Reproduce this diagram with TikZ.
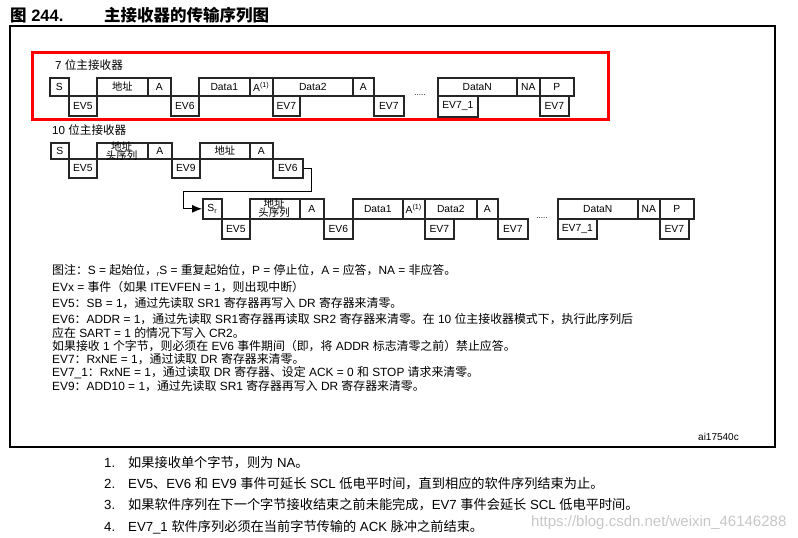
\documentclass[tikz,border=0pt]{standalone}
\usepackage{fontspec}
\setmainfont{Liberation Sans}
\newfontfamily\cjkfont{Noto Sans CJK SC}
\usetikzlibrary{arrows.meta}
\XeTeXinterchartokenstate=1
\newXeTeXintercharclass\CJKcls
\newcount\cjkc
\def\setcjkrange#1#2{\cjkc=#1\relax\loop\XeTeXcharclass\cjkc=\CJKcls\relax\ifnum\cjkc<#2\advance\cjkc by 1\repeat}
\setcjkrange{"4E00}{"9FFF}
\setcjkrange{"3000}{"303F}
\setcjkrange{"FF00}{"FFEF}
\XeTeXinterchartoks 0 \CJKcls = {\cjkfont}
\XeTeXinterchartoks 4095 \CJKcls = {\cjkfont}
\XeTeXinterchartoks \CJKcls 0 = {\rmfamily}
\XeTeXinterchartoks \CJKcls 4095 = {\rmfamily}
\tikzset{
  bx/.style={draw=black!85, line width=1.6pt, inner sep=0pt, font=\fontsize{10.3}{10.3}\selectfont},
  conn/.style={draw=black, line width=0.9pt},
  note/.style={anchor=base west, inner sep=0pt, font=\fontsize{11.9}{11.9}\selectfont},
  foot/.style={anchor=base west, inner sep=0pt, font=\fontsize{13.2}{13.2}\selectfont},
  rowlabel/.style={anchor=base west, inner sep=0pt, font=\fontsize{11.6}{11.6}\selectfont},
  hdr/.style={inner sep=0pt, font=\fontsize{10.5}{10.5}\selectfont},
  small/.style={inner sep=0pt, font=\fontsize{8}{8}\selectfont},
  titlef/.style={anchor=base west, inner sep=0pt, font=\bfseries\fontsize{16.5}{16.5}\selectfont},
}
\newcommand\boxat[6]{\node[bx,anchor=north west,minimum width={(#4-#2)*1pt},minimum height={(#5-#3)*1pt}] (#1) at (#2,#3) {#6};}
\begin{document}
\begin{tikzpicture}[x=1pt,y=-1pt]
\useasboundingbox (0,0) rectangle (798,538);
% title
\node[titlef] (t1) at (10,21) {图 244.};
\node[titlef] (t2) at (104,21) {主接收器的传输序列图};
% frame
\draw[line width=1.5pt] (10,26) rectangle (775,447);
\draw[red, line width=3pt] (32,52) rectangle (608,119);
% row 1
\node[rowlabel] (l7) at (55,69) {7 位主接收器};
\boxat{s1}{49}{77}{68}{95}{S}
\boxat{ev5a}{68}{95}{96}{115}{EV5}
\boxat{addr1}{96}{77}{147}{95}{地址}
\boxat{a1}{147}{77}{170}{95}{A}
\boxat{ev6a}{170}{95}{198}{115}{EV6}
\boxat{d1a}{198}{77}{249}{95}{Data1}
\boxat{a1b}{249}{77}{272}{95}{A\textsuperscript{(1)}}
\boxat{d2a}{272}{77}{352}{95}{Data2}
\boxat{ev7a}{272}{95}{299}{115}{EV7}
\boxat{a1c}{352}{77}{373}{95}{A}
\boxat{ev7b}{373}{95}{403}{115}{EV7}
\node[small] (dots1) at (420,95) {.....};
\boxat{dna}{437}{77}{516}{95}{DataN}
\boxat{naa}{516}{77}{539}{95}{NA}
\boxat{pa}{539}{77}{573}{95}{P}
\boxat{ev71a}{437}{95}{477}{116}{EV7\_1}
\boxat{ev7c}{539}{95}{568}{115}{EV7}
% row 2
\node[rowlabel] (l10) at (52,134) {10 位主接收器};
\boxat{s2}{50}{142}{68}{158}{S}
\boxat{ev5b}{68}{158}{96}{177}{EV5}
\boxat{addr2}{96}{142}{147}{158}{}
\node[hdr] (addr2t) at (121.5,146.5) {地址};
\node[hdr] (addr2h) at (121.5,156) {头序列};
\boxat{a2}{147}{142}{171}{158}{A}
\boxat{ev9}{171}{158}{199}{177}{EV9}
\boxat{addr3}{199}{142}{249}{158}{地址}
\boxat{a3}{249}{142}{272}{158}{A}
\boxat{ev6b}{272}{158}{302}{177}{EV6}
% row 3
\boxat{sr}{202}{198}{221}{218}{S\textsubscript{r}}
\boxat{ev5c}{221}{218}{249}{238}{EV5}
\boxat{addr4}{249}{198}{299}{218}{}
\node[hdr] (addr4t) at (274,203.5) {地址};
\node[hdr] (addr4h) at (274,213) {头序列};
\boxat{a4}{299}{198}{323}{218}{A}
\boxat{ev6c}{323}{218}{352}{238}{EV6}
\boxat{d1c}{352}{198}{402}{218}{Data1}
\boxat{a4b}{402}{198}{424}{218}{A\textsuperscript{(1)}}
\boxat{d2c}{424}{198}{476}{218}{Data2}
\boxat{ev7d}{424}{218}{453}{238}{EV7}
\boxat{a4c}{476}{198}{497}{218}{A}
\boxat{ev7e}{497}{218}{527}{238}{EV7}
\node[small] (dots2) at (542,218) {.....};
\boxat{dnc}{557}{198}{637}{218}{DataN}
\boxat{nac}{637}{198}{659}{218}{NA}
\boxat{pc}{659}{198}{693}{218}{P}
\boxat{ev71c}{557}{218}{596}{238}{EV7\_1}
\boxat{ev7f}{659}{218}{688}{238}{EV7}
% connector
\coordinate (c1) at (311,191);
\coordinate (c2) at (183,191);
\draw[conn, -{Latex[length=10pt,width=8pt]}] (ev6b.east) -| (c1) -- (c2) |- (sr.west);
% notes
\node[note] (n1) at (52,274) {图注：S = 起始位，{\fontsize{7}{7}\selectfont\raisebox{-2pt}{r}}S = 重复起始位，P = 停止位，A = 应答，NA = 非应答。};
\node[note] (n2) at (52,291) {EVx = 事件（如果 ITEVFEN = 1，则出现中断）};
\node[note] (n3) at (52,307) {EV5：SB = 1，通过先读取 SR1 寄存器再写入 DR 寄存器来清零。};
\node[note] (n4) at (52,323) {EV6：ADDR = 1，通过先读取 SR1寄存器再读取 SR2 寄存器来清零。在 10 位主接收器模式下，执行此序列后};
\node[note] (n5) at (52,337) {应在 SART = 1 的情况下写入 CR2。};
\node[note] (n6) at (52,350) {如果接收 1 个字节，则必须在 EV6 事件期间（即，将 ADDR 标志清零之前）禁止应答。};
\node[note] (n7) at (52,363) {EV7：RxNE = 1，通过读取 DR 寄存器来清零。};
\node[note] (n8) at (52,376) {EV7\_1：RxNE = 1，通过读取 DR 寄存器、设定 ACK = 0 和 STOP 请求来清零。};
\node[note] (n9) at (52,390) {EV9：ADD10 = 1，通过先读取 SR1 寄存器再写入 DR 寄存器来清零。};
\node[anchor=base west, inner sep=0pt, font=\fontsize{10}{10}\selectfont] (id) at (698,440) {ai17540c};
% footnotes
\node[foot] (f1n) at (104,467) {1.};
\node[foot] (f1) at (128,467) {如果接收单个字节，则为 NA。};
\node[foot] (f2n) at (104,488) {2.};
\node[foot] (f2) at (128,488) {EV5、EV6 和 EV9 事件可延长 SCL 低电平时间，直到相应的软件序列结束为止。};
\node[foot] (f3n) at (104,509) {3.};
\node[foot] (f3) at (128,509) {如果软件序列在下一个字节接收结束之前未能完成，EV7 事件会延长 SCL 低电平时间。};
\node[foot] (f4n) at (104,531) {4.};
\node[foot] (f4) at (128,531) {EV7\_1 软件序列必须在当前字节传输的 ACK 脉冲之前结束。};
% watermark
\node[anchor=base west, inner sep=0pt, text=black!22, font=\fontsize{15}{15}\selectfont] (wm) at (531,526) {https://blog.csdn.net/weixin\_46146288};
\end{tikzpicture}
\end{document}
